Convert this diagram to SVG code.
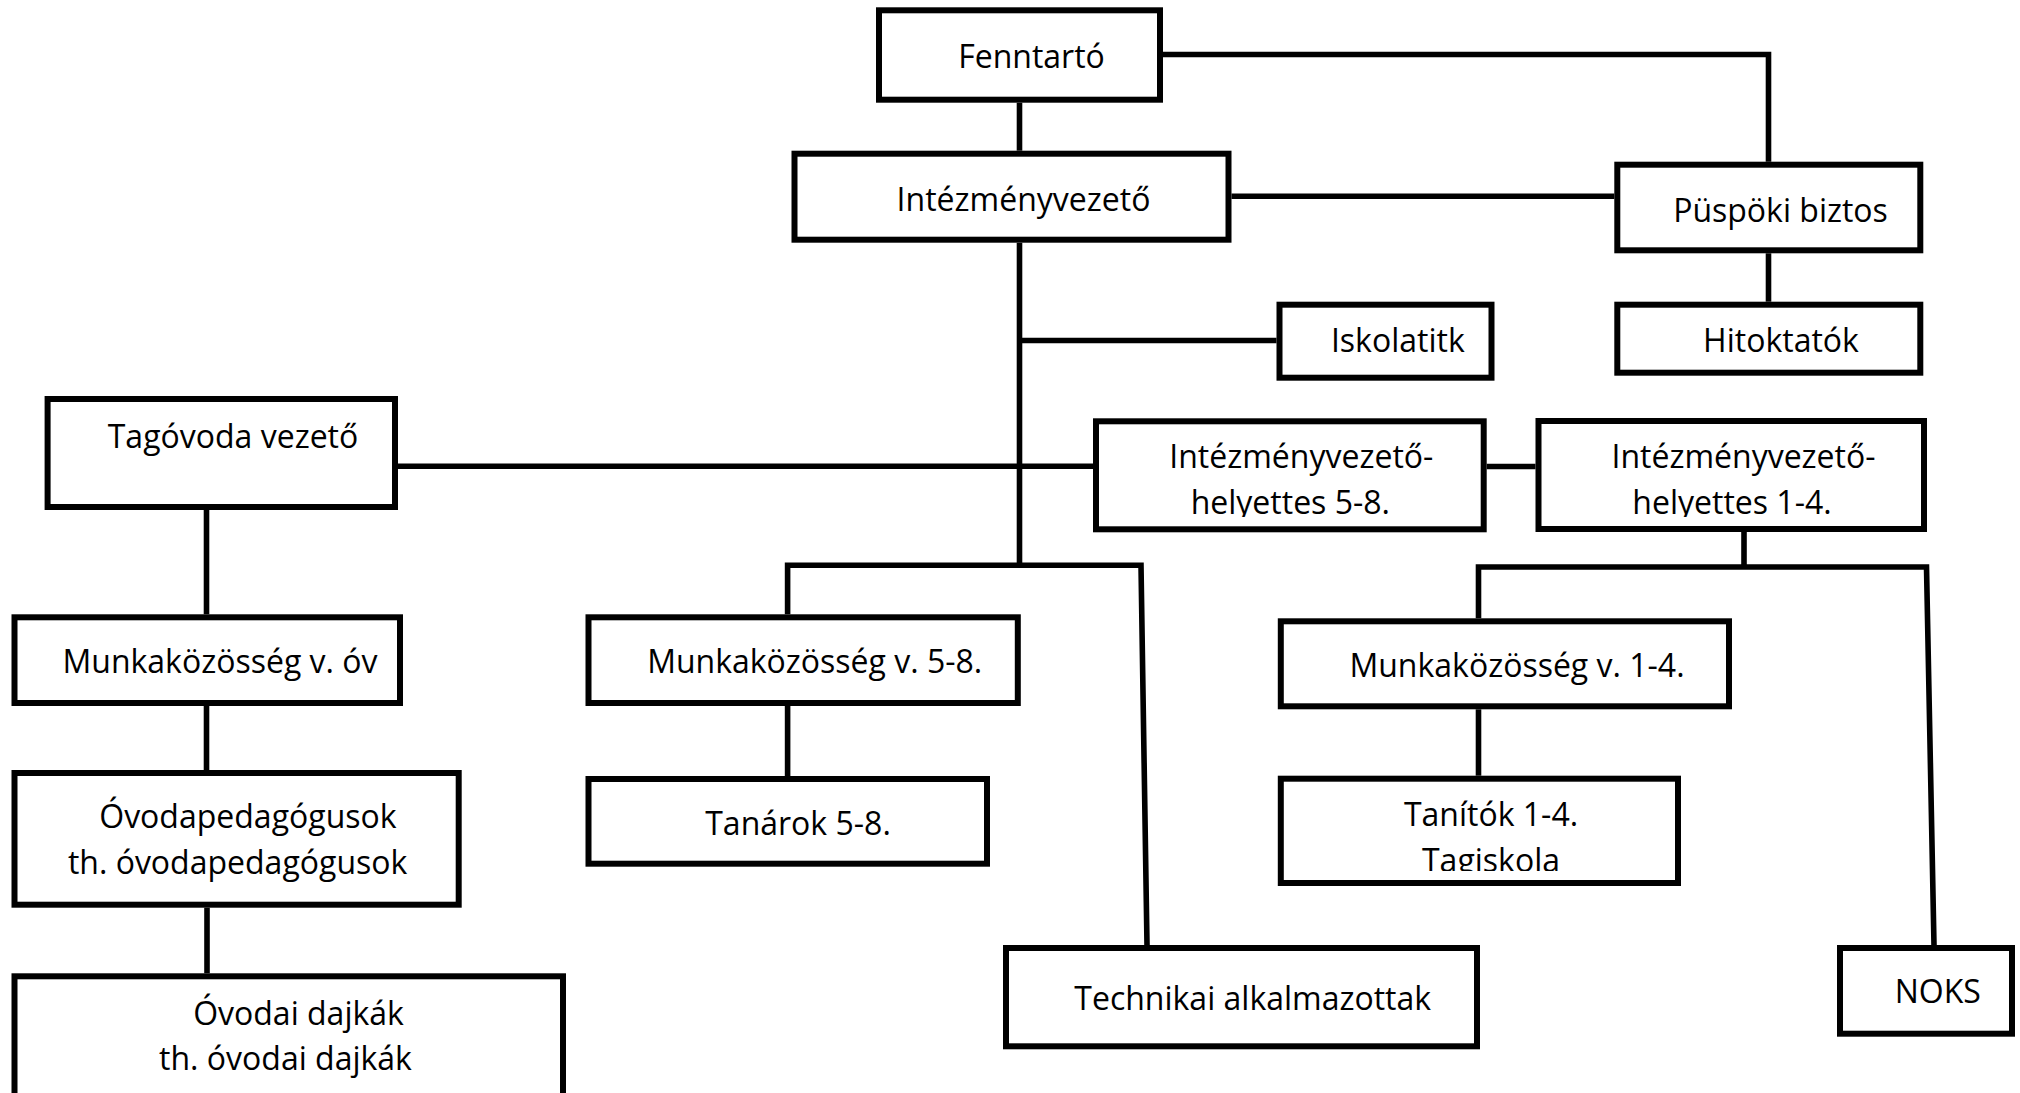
<svg xmlns="http://www.w3.org/2000/svg" width="2020" height="1093" viewBox="0 0 2020 1093">
<style>
.box{fill:#fff;stroke:#000;stroke-width:6}
.lbl{font-family:"Open Sans","Liberation Sans",sans-serif;font-size:32px;fill:#000;text-anchor:middle}
.con{fill:none;stroke:#000;stroke-width:5.6;stroke-linejoin:miter;stroke-linecap:butt}
</style>
<defs>
<clipPath id="c58"><rect x="1096" y="421" width="388" height="96"/></clipPath>
<clipPath id="c14"><rect x="1538" y="421" width="386" height="96"/></clipPath>
<clipPath id="ctan"><rect x="1281" y="779" width="397" height="92"/></clipPath>
</defs>
<rect width="2020" height="1093" fill="#fff"/>
<g id="connectors">
<path class="con" d="M1019.5,102.7 V150.7"/>
<path class="con" d="M1163,54.5 H1768.5 V161.7"/>
<path class="con" d="M1231.5,196.2 H1614.3"/>
<path class="con" d="M1768.5,253.3 V301.7"/>
<path class="con" d="M1019.5,242.7 V565.3"/>
<path class="con" d="M1019.5,340.5 H1276.5"/>
<path class="con" d="M398,466.3 H1093"/>
<path class="con" d="M1486.7,466.5 H1535.5"/>
<path class="con" d="M787.6,614.3 V565.3 H1141 L1147,945"/>
<path class="con" d="M787.6,706 V776"/>
<path class="con" d="M1744,532 V567"/>
<path class="con" d="M1478.5,618.3 V567 H1926.5 L1934,945"/>
<path class="con" d="M1478.5,709.3 V775.7"/>
<path class="con" d="M206.5,510 V614.3"/>
<path class="con" d="M206.5,706 V770"/>
<path class="con" d="M207,907.7 V973.3"/>
</g>
<g id="fenntarto"><rect class="box" x="879" y="10.3" width="281" height="89.4"/><text class="lbl" x="1031.5" y="68">Fenntartó</text></g>
<g id="intezmenyvezeto"><rect class="box" x="794.5" y="153.7" width="434" height="86"/><text class="lbl" x="1023.5" y="210.7">Intézményvezető</text></g>
<g id="puspoki"><rect class="box" x="1617.3" y="164.7" width="303" height="85.6"/><text class="lbl" x="1780.5" y="221.7">Püspöki biztos</text></g>
<g id="iskolatitk"><rect class="box" x="1279.5" y="304.7" width="212" height="73"/><text class="lbl" x="1397.8" y="351.7">Iskolatitk</text></g>
<g id="hitoktatok"><rect class="box" x="1617.3" y="304.7" width="303" height="68"/><text class="lbl" x="1781" y="351.7">Hitoktatók</text></g>
<g id="tagovoda"><rect class="box" x="47.6" y="399" width="347.4" height="108"/><text class="lbl" x="233" y="448.3">Tagóvoda vezető</text></g>
<g id="helyettes58"><rect class="box" x="1096" y="421.3" width="387.7" height="108"/><g clip-path="url(#c58)"><text class="lbl" x="1301.3" y="468.3">Intézményvezető-</text><text class="lbl" x="1290.3" y="514">helyettes 5-8.</text></g></g>
<g id="helyettes14"><rect class="box" x="1538.5" y="421" width="385.5" height="108"/><g clip-path="url(#c14)"><text class="lbl" x="1743.5" y="468">Intézményvezető-</text><text class="lbl" x="1732" y="514">helyettes 1-4.</text></g></g>
<g id="munk-ov"><rect class="box" x="14.5" y="617.3" width="385.5" height="85.7"/><text class="lbl" x="220" y="672.7">Munkaközösség v. óv</text></g>
<g id="munk-58"><rect class="box" x="588.5" y="617.3" width="429.3" height="85.7"/><text class="lbl" x="814.7" y="672.7">Munkaközösség v. 5-8.</text></g>
<g id="munk-14"><rect class="box" x="1280.8" y="621.3" width="448.2" height="85"/><text class="lbl" x="1517" y="676.7">Munkaközösség v. 1-4.</text></g>
<g id="ovodaped"><rect class="box" x="14.5" y="773" width="444.2" height="131.7"/><text class="lbl" x="247.9" y="828.3">Óvodapedagógusok</text><text class="lbl" x="237.6" y="874">th. óvodapedagógusok</text></g>
<g id="tanarok"><rect class="box" x="588.5" y="779" width="398.5" height="84.7"/><text class="lbl" x="798" y="835">Tanárok 5-8.</text></g>
<g id="tanitok"><rect class="box" x="1280.8" y="778.7" width="397.2" height="104.3"/><g clip-path="url(#ctan)"><text class="lbl" x="1491" y="826">Tanítók 1-4.</text><text class="lbl" x="1491" y="872">Tagiskola</text></g></g>
<g id="dajkak"><rect class="box" x="14.5" y="976.3" width="548.5" height="130"/><text class="lbl" x="298.5" y="1025">Óvodai dajkák</text><text class="lbl" x="285.5" y="1070">th. óvodai dajkák</text></g>
<g id="technikai"><rect class="box" x="1006" y="948" width="471" height="98.3"/><text class="lbl" x="1252.7" y="1010">Technikai alkalmazottak</text></g>
<g id="noks"><rect class="box" x="1840" y="948" width="172" height="85.7"/><text class="lbl" x="1937.8" y="1003.3">NOKS</text></g>
</svg>
